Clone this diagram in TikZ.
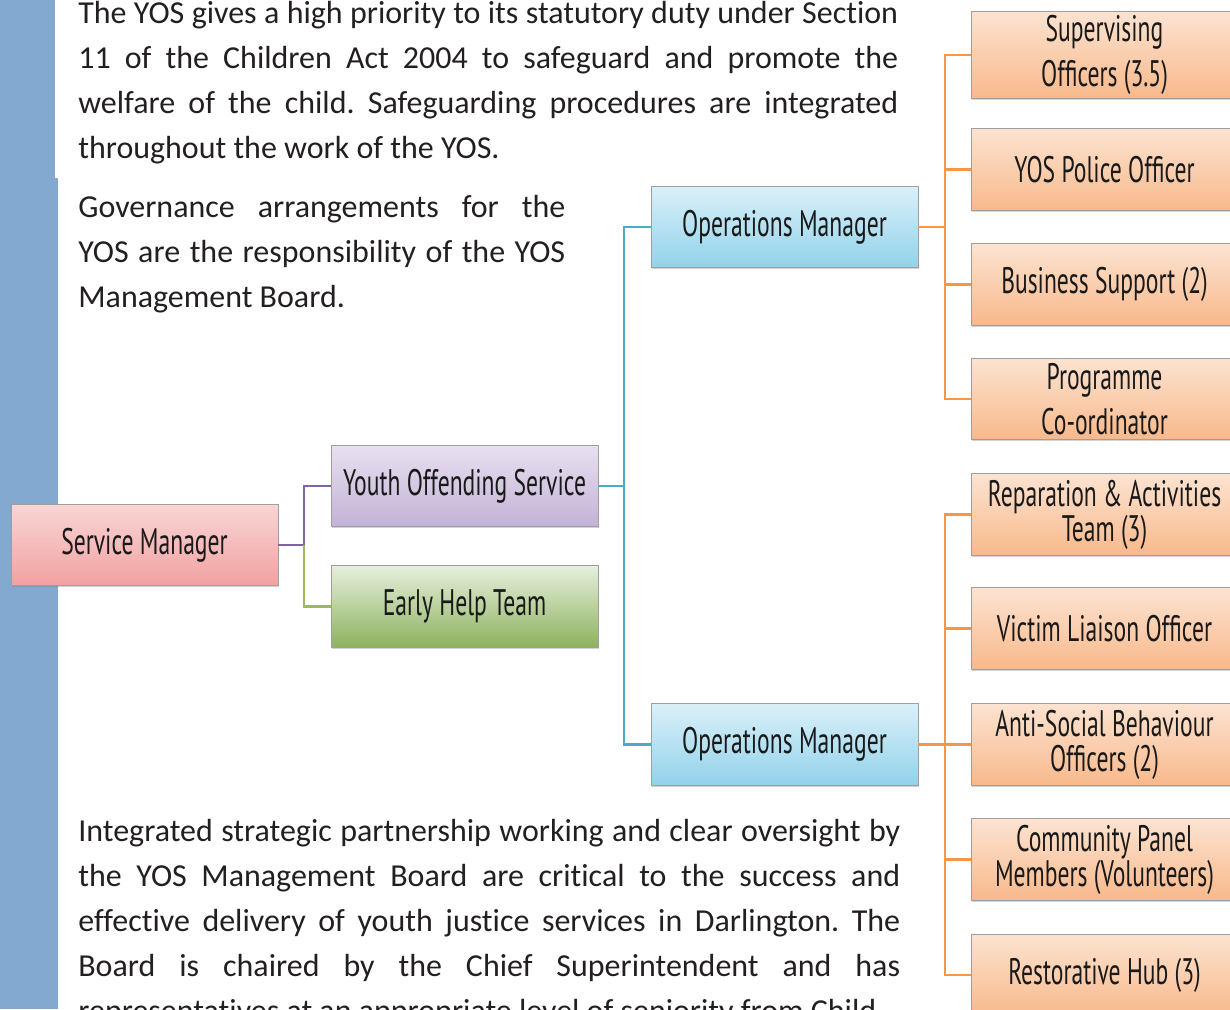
\documentclass[tikz,border=0pt]{standalone}
\usepackage{fontspec}
\setmainfont{Carlito}[Ligatures=NoCommon]
\newfontfamily\boxfont[FakeStretch=0.64]{PT Sans}
\usetikzlibrary{shadows}

\definecolor{stripblue}{HTML}{84A9D0}
\definecolor{bodytext}{HTML}{231F20}
\definecolor{linepurple}{HTML}{8064A2}
\definecolor{linegreen}{HTML}{9BBB59}
\definecolor{linecyan}{HTML}{4BACC6}
\definecolor{lineorange}{HTML}{F79646}

\newcommand{\jline}[2]{\makebox[#1][s]{#2}}
\frenchspacing

\begin{document}
\begin{tikzpicture}[x=0.02cm, y=-0.02cm,
    orgbox/.style={draw=gray!75, rectangle, minimum width=5.34cm,
                   minimum height=1.63cm, inner sep=2pt, align=center,
                   text=black!90, font=\boxfont\fontsize{21}{22}\selectfont,
                   drop shadow={shadow xshift=.7pt, shadow yshift=-.9pt, opacity=.35}},
    smbox/.style={orgbox, top color={rgb,255:red,249;green,213;blue,213},
                  bottom color={rgb,255:red,242;green,161;blue,161}},
    yosbox/.style={orgbox, top color={rgb,255:red,232;green,224;blue,240},
                   bottom color={rgb,255:red,195;green,178;blue,214}},
    ehbox/.style={orgbox, top color={rgb,255:red,230;green,239;blue,220},
                  bottom color={rgb,255:red,141;green,178;blue,94}},
    opsbox/.style={orgbox, top color={rgb,255:red,218;green,240;blue,249},
                   bottom color={rgb,255:red,146;green,210;blue,234}},
    staffbox/.style={orgbox, top color={rgb,255:red,252;green,227;blue,209},
                     bottom color={rgb,255:red,248;green,185;blue,139}},
    link/.style={line width=1.3pt},
    para/.style={anchor=north west, inner sep=0, align=left, text=bodytext,
                 font=\fontsize{18.2}{25.6}\selectfont}
    ]
    \useasboundingbox (0,0) rectangle (1230,1009);

    % side strip
    \fill[stripblue] (0,0) rectangle (58,1009);
    \fill[white] (55,0) rectangle (58,178);

    % text
    \node[para] (intro) at (78,1) {%
      \jline{16.4cm}{The YOS gives a high priority to its statutory duty under Section}\\
      \jline{16.4cm}{11 of the Children Act 2004 to safeguard and promote the}\\
      \jline{16.4cm}{welfare of the child. Safeguarding procedures are integrated}\\
      throughout the work of the YOS.};
    \node[para] (gov) at (78,195) {%
      \jline{9.74cm}{Governance arrangements for the}\\
      \jline{9.74cm}{YOS are the responsibility of the YOS}\\
      Management Board.};
    \node[para] (board) at (78,819) {%
      \jline{16.44cm}{Integrated strategic partnership working and clear oversight by}\\
      \jline{16.44cm}{the YOS Management Board are critical to the success and}\\
      \jline{16.44cm}{effective delivery of youth justice services in Darlington. The}\\
      \jline{16.44cm}{Board is chaired by the Chief Superintendent and has}\\
      representatives at an appropriate level of seniority from Child};

    % structure
    \node[smbox] (sm) at (144.5,545) {Service Manager};
    \node[yosbox] (yos) at (464.5,486) {Youth Offending Service};
    \node[ehbox] (eht) at (464.5,606.5) {Early Help Team};
    \node[opsbox] (ops1) at (784.5,227) {Operations Manager};
    \node[opsbox] (ops2) at (784.5,744.5) {Operations Manager};

    \node[staffbox] (s1) at (1104.5,55) {Supervising\\[4pt] Officers (3.5)};
    \node[staffbox] (s2) at (1104.5,169.5) {YOS Police Officer};
    \node[staffbox] (s3) at (1104.5,284.5) {Business Support (2)};
    \node[staffbox] (s4) at (1104.5,399) {Programme\\[4pt] Co-ordinator};
    \node[staffbox] (s5) at (1104.5,514.5) {Reparation \& Activities\\[-2pt] Team (3)};
    \node[staffbox] (s6) at (1104.5,628.5) {Victim Liaison Officer};
    \node[staffbox] (s7) at (1104.5,744.5) {Anti-Social Behaviour\\[-2pt] Officers (2)};
    \node[staffbox] (s8) at (1104.5,859.5) {Community Panel\\[-2pt] Members (Volunteers)};
    \node[staffbox] (s9) at (1104.5,975) {Restorative Hub (3)};

    % connectors
    \draw[link, linepurple] (sm.east) -- ++(26,0) coordinate (smj) |- (yos.west);
    \draw[link, linegreen] (smj) |- (eht.west);
    \draw[link, linecyan] (yos.east) -- ++(26,0) coordinate (yosj);
    \draw[link, linecyan] (yosj) |- (ops1.west);
    \draw[link, linecyan] (yosj) |- (ops2.west);
    \foreach \s in {s1,s2,s3,s4}
      \draw[link, lineorange] (ops1.east) -- ++(27,0) |- (\s.west);
    \foreach \s in {s5,s6,s7,s8,s9}
      \draw[link, lineorange] (ops2.east) -- ++(27,0) |- (\s.west);
\end{tikzpicture}
\end{document}
